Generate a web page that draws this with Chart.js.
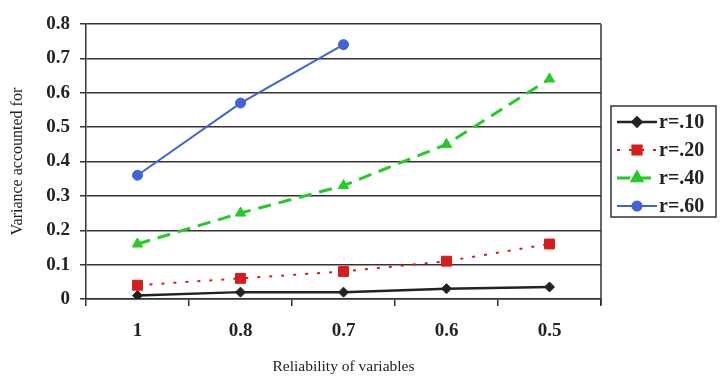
<!DOCTYPE html>
<html><head><meta charset="utf-8">
<script src="https://cdn.jsdelivr.net/npm/chart.js@4"></script>
<style>html,body{margin:0;padding:0;background:#fff}#wrap{width:723px;height:380px}</style>
</head><body><div id="wrap"><canvas id="c" width="723" height="380"></canvas></div>
<script>
const categories = ["1", "0.8", "0.7", "0.6", "0.5"];
const seriesNames = ["r=.10", "r=.20", "r=.40", "r=.60"];
const r10 = [0.01, 0.02, 0.02, 0.03, 0.035];
const r20 = [0.04, 0.06, 0.08, 0.11, 0.16];
const r40 = [0.16, 0.25, 0.33, 0.45, 0.64];
const r60 = [0.36, 0.57, 0.74, null, null];
const yTitle = "Variance accounted for";
const xTitle = "Reliability of variables";

const serif = "'Liberation Serif', 'Times New Roman', serif";

const frame = {
  id: 'frame',
  afterDraw(chart) {
    const {ctx, chartArea: a} = chart;
    ctx.save();
    ctx.strokeStyle = '#333';
    ctx.lineWidth = 1.5;
    ctx.beginPath();
    ctx.moveTo(a.right, a.top);
    ctx.lineTo(a.right, a.bottom + 6);
    ctx.stroke();
    // legend
    const lx = 611, ly = 106, lw = 105, lh = 111;
    ctx.lineWidth = 1.5;
    ctx.strokeStyle = '#333';
    ctx.strokeRect(lx, ly, lw, lh);
    chart.data.datasets.forEach((ds, i) => {
      const y = ly + 16 + i * 28;
      ctx.save();
      ctx.strokeStyle = ds.borderColor;
      ctx.lineWidth = ds.borderWidth;
      ctx.setLineDash(ds.borderDash || []);
      ctx.beginPath();
      ctx.moveTo(617, y); ctx.lineTo(657, y);
      ctx.stroke();
      ctx.setLineDash([]);
      ctx.fillStyle = ds.pointBackgroundColor;
      ctx.strokeStyle = ds.pointBackgroundColor;
      Chart.helpers.drawPoint(ctx, {pointStyle: ds.pointStyle, radius: ds.pointRadius - 0.5, rotation: 0, borderWidth: 1}, 637, y);
      ctx.restore();
      ctx.fillStyle = '#222';
      ctx.font = "bold 20px " + serif;
      ctx.textBaseline = 'middle';
      ctx.textAlign = 'left';
      ctx.fillText(ds.label, 659, y + 1);
    });
    ctx.restore();
  }
};

const styles = [
  {borderColor: '#222222', pointBackgroundColor: '#222222', borderWidth: 2.5, borderDash: [], pointStyle: 'rectRot', pointRadius: 5},
  {borderColor: '#d81b1b', pointBackgroundColor: '#d81b1b', borderWidth: 2, borderDash: [3, 9], pointStyle: 'rect', pointRadius: 7},
  {borderColor: '#22cc22', pointBackgroundColor: '#22cc22', borderWidth: 3, borderDash: [13, 8], pointStyle: 'triangle', pointRadius: 6},
  {borderColor: '#4163d6', pointBackgroundColor: '#4163d6', borderWidth: 2, borderDash: [], pointStyle: 'circle', pointRadius: 5}
];
const values = [r10, r20, r40, r60];

new Chart(document.getElementById('c'), {
  type: 'line',
  data: {
    labels: categories,
    datasets: values.map((v, i) => Object.assign({
      label: seriesNames[i], data: v, fill: false, tension: 0,
      pointBorderColor: styles[i].pointBackgroundColor, pointBorderWidth: 1, spanGaps: false
    }, styles[i]))
  },
  options: {
    responsive: false, animation: false, devicePixelRatio: 1,
    layout: {padding: {top: 24, right: 122, left: 0, bottom: 0}},
    plugins: {legend: {display: false}, tooltip: {enabled: false}},
    scales: {
      x: {
        offset: true,
        grid: {offset: true, drawOnChartArea: false, color: '#333', lineWidth: 1.5, tickLength: 7, tickColor: '#333'},
        border: {display: true, color: '#333', width: 1.5},
        ticks: {color: '#222', font: {family: serif, size: 19, weight: 'bold'}, padding: 14, maxRotation: 0},
        title: {display: true, text: xTitle, color: '#222', font: {family: serif, size: 15.5}, padding: {top: 8, bottom: 4}},
        afterFit(s) { s.height = 81; }
      },
      y: {
        min: 0, max: 0.8,
        ticks: {stepSize: 0.1, color: '#222', font: {family: serif, size: 19, weight: 'bold'}, padding: 10},
        grid: {color: '#333', lineWidth: 1.5, tickLength: 6},
        border: {display: true, color: '#333', width: 1.5},
        title: {display: true, text: yTitle, color: '#222', font: {family: serif, size: 16}, padding: {top: 8, bottom: 4}},
        afterFit(s) { s.width = 86; }
      }
    }
  },
  plugins: [frame]
});
</script></body></html>
